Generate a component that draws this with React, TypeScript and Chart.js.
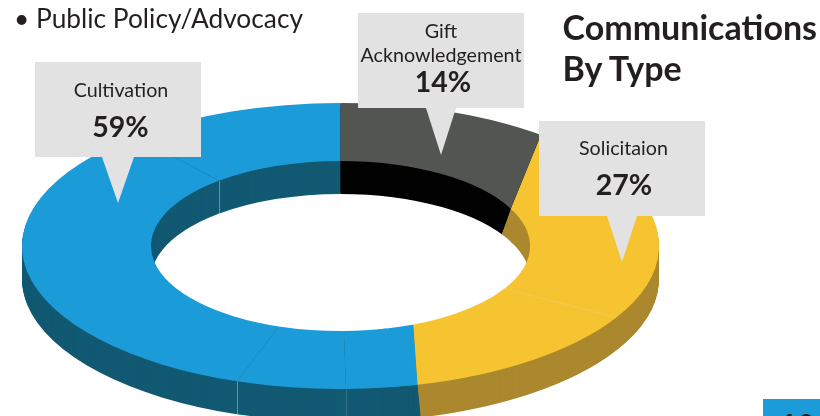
import React, { useEffect, useRef } from "react";
import { Chart, registerables } from "chart.js";

Chart.register(...registerables);

// Ring pieces, in degrees clockwise from twelve o'clock
const segmentNames = ["Gift", "Solicitation A", "Solicitation B", "Cultivation A", "Cultivation B", "Cultivation C", "Cultivation D"];
const segmentDegrees = [64, 56, 46, 13, 20, 121, 40];
const topColors = ["#535552", "#f5c430", "#f5c430", "#1b9cd9", "#1b9cd9", "#1b9cd9", "#1b9cd9"];
const wallColors = ["#010200", "#ab882e", "#ab882e", "#125972", "#125972", "#125972", "#125972"];
// The coloured boundaries are not radial: outer end and inner end have different angles
const skewed: Record<number, { outer: number; inner: number; slant: number; next: number }> = {
  0: { outer: 39, inner: 64, slant: -0.37, next: 1 },
  2: { outer: 166, inner: 157.4, slant: 0.1, next: 3 },
};
// Faint light seams on the walls (index of the arc whose start angle is the seam; which wall)
const wallSeams = [
  { arc: 5, wall: "outer", alpha: 0.35 },
  { arc: 6, wall: "inner", alpha: 0.35 },
  { arc: 4, wall: "outer", alpha: 0.15 },
];
const topSeams = [{ arc: 2, color: "rgba(255,232,150,0.5)" }];

const calloutLabels = [["Cultivation"], ["Gift", "Acknowledgement"], ["Solicitaion"]];
const calloutValues = ["59%", "14%", "27%"];
const titleLines = ["Communications", "By Type"];
const bulletText = "Public Policy/Advocacy";
const pageNumber = "10";

const callouts = [
  { x: 35, y: 62, tipBase: [102, 134], tip: [118, 203], lineY: [90], valueY: 126, labelDx: 3, valueDx: 2.5 },
  { x: 358, y: 13, tipBase: [426, 456], tip: [441, 155], lineY: [31, 55], valueY: 81, labelDx: 0, valueDx: 2 },
  { x: 539, y: 121, tipBase: [607, 637], tip: [622, 262], lineY: [148], valueY: 184, labelDx: 1.5, valueDx: 2 },
];

const CX_Y = 246;
const SQUASH = 0.449;
const DEPTH = 33;

function pt(arc: any, deg: number, r: number) {
  const a = ((deg - 90) * Math.PI) / 180;
  return [arc.x + Math.cos(a) * r, arc.y + Math.sin(a) * r];
}

function clipSide(ctx: CanvasRenderingContext2D, arc: any, s: any, depth: number, keepStart: boolean) {
  const dx = s.slant * depth;
  const po = pt(arc, s.outer, arc.outerRadius);
  const pi = pt(arc, s.inner, arc.innerRadius);
  po[0] += dx;
  pi[0] += dx;
  let ux = po[0] - pi[0];
  let uy = po[1] - pi[1];
  const len = Math.hypot(ux, uy);
  ux /= len;
  uy /= len;
  let nx = -uy;
  let ny = ux;
  const mid = pt(arc, (arc.startAngle * 180) / Math.PI + 90, (arc.innerRadius + arc.outerRadius) / 2);
  const side = (mid[0] - pi[0]) * nx + (mid[1] - pi[1]) * ny;
  if ((side < 0) === keepStart) {
    nx = -nx;
    ny = -ny;
  }
  const F = 4000;
  ctx.beginPath();
  ctx.moveTo(pi[0] - ux * F, pi[1] - uy * F);
  ctx.lineTo(po[0] + ux * F, po[1] + uy * F);
  ctx.lineTo(po[0] + ux * F + nx * F, po[1] + uy * F + ny * F);
  ctx.lineTo(pi[0] - ux * F + nx * F, pi[1] - uy * F + ny * F);
  ctx.closePath();
  ctx.clip();
}

function paint(ctx: CanvasRenderingContext2D, arc: any, color: string, overlap = 0) {
  const copy = Object.assign(Object.create(Object.getPrototypeOf(arc)), arc, {
    options: { ...arc.options, backgroundColor: color, borderWidth: 0 },
    endAngle: arc.endAngle + overlap,
    circumference: arc.circumference + overlap,
  });
  copy.draw(ctx);
}

const ringPlugin = {
  id: "ring3d",
  beforeDatasetsDraw(chart: any) {
    const ctx: CanvasRenderingContext2D = chart.ctx;
    const arcs = chart.getDatasetMeta(0).data;
    const cy = arcs[0].y;
    const toY = (y: number) => CX_Y + (y - cy) * SQUASH;
    const layer = (depth: number, colors: string[]) => {
      ctx.save();
      ctx.translate(0, CX_Y + depth);
      ctx.scale(1, SQUASH);
      ctx.translate(0, -cy);
      for (let i = arcs.length - 1; i >= 0; i--) {
        const s = skewed[i];
        if (s) {
          ctx.save();
          clipSide(ctx, arcs[i], s, depth, false);
          paint(ctx, arcs[i], colors[s.next], 0.03);
          ctx.restore();
          ctx.save();
          clipSide(ctx, arcs[i], s, depth, true);
          paint(ctx, arcs[i], colors[i]);
          ctx.restore();
        } else {
          paint(ctx, arcs[i], colors[i]);
        }
      }
      ctx.restore();
    };
    for (let d = DEPTH; d >= 1; d--) layer(d, wallColors);
    ctx.save();
    ctx.lineWidth = 1;
    wallSeams.forEach((w) => {
      const a = arcs[w.arc];
      const deg = (a.startAngle * 180) / Math.PI + 90;
      const p = pt(a, deg, w.wall === "outer" ? a.outerRadius : a.innerRadius);
      ctx.strokeStyle = `rgba(255,255,255,${w.alpha})`;
      ctx.beginPath();
      ctx.moveTo(Math.round(p[0]) + 0.5, toY(p[1]));
      ctx.lineTo(Math.round(p[0]) + 0.5, toY(p[1]) + DEPTH);
      ctx.stroke();
    });
    ctx.restore();
    layer(0, topColors);
    ctx.save();
    ctx.lineWidth = 0.8;
    topSeams.forEach((t) => {
      const a = arcs[t.arc];
      const deg = (a.startAngle * 180) / Math.PI + 90;
      const p = pt(a, deg, a.innerRadius);
      const q = pt(a, deg, a.outerRadius);
      ctx.strokeStyle = t.color;
      ctx.beginPath();
      ctx.moveTo(p[0], toY(p[1]));
      ctx.lineTo(q[0], toY(q[1]));
      ctx.stroke();
    });
    ctx.restore();
    return false;
  },
};

export default function App() {
  const ref = useRef<HTMLCanvasElement>(null);
  useEffect(() => {
    document.body.style.margin = "0";
    const chart = new Chart(ref.current!, {
      type: "doughnut",
      data: {
        labels: segmentNames,
        datasets: [{ data: segmentDegrees, backgroundColor: topColors, borderWidth: 0 }],
      },
      options: {
        responsive: false,
        animation: false,
        cutout: "59.5%",
        layout: { padding: { left: 22, right: 161, top: 0, bottom: 0 } },
        plugins: { legend: { display: false }, tooltip: { enabled: false } },
      },
      plugins: [ringPlugin],
    } as any);
    return () => chart.destroy();
  }, []);

  const font = "Lato, 'Noto Sans', sans-serif";
  const ink = "#231f20";
  return (
    <div style={{ position: "relative", width: 820, height: 416, overflow: "hidden", background: "#fff", fontFamily: font, color: ink }}>
      <canvas ref={ref} width={820} height={637} style={{ position: "absolute", left: 0, top: 0, width: 820, height: 637 }} />
      <div style={{ position: "absolute", left: 14, top: 1, fontSize: 26.3, lineHeight: "34px", whiteSpace: "nowrap" }}>
        <span style={{ display: "inline-block", width: 22 }}>•</span>
        {bulletText}
      </div>
      {titleLines.map((t, i) => (
        <div key={t} style={{ position: "absolute", left: 562.5, top: 6 + i * 40.5, fontSize: 34, lineHeight: "41px", fontWeight: 700, whiteSpace: "nowrap" }}>
          {t}
        </div>
      ))}
      {callouts.map((c, i) => (
        <React.Fragment key={i}>
          <div style={{ position: "absolute", left: c.x, top: c.y, width: 166, height: 95, background: "#e2e2e2" }} />
          <div
            style={{
              position: "absolute",
              left: c.tipBase[0],
              top: c.y + 95,
              width: c.tipBase[1] - c.tipBase[0],
              height: c.tip[1] - c.y - 95,
              background: "#e2e2e2",
              clipPath: `polygon(0 0, 100% 0, ${c.tip[0] - c.tipBase[0]}px 100%)`,
            }}
          />
          {calloutLabels[i].map((l, j) => (
            <div key={l} style={{ position: "absolute", left: c.x - 10 + c.labelDx, width: 186, top: c.lineY[j] - 12, height: 24, lineHeight: "24px", textAlign: "center", fontSize: 19.7, whiteSpace: "nowrap" }}>
              {l}
            </div>
          ))}
          <div style={{ position: "absolute", left: c.x + c.valueDx, width: 166, top: c.valueY - 18, height: 36, lineHeight: "36px", textAlign: "center", fontSize: 28.5, fontWeight: 700 }}>
            {calloutValues[i]}
          </div>
        </React.Fragment>
      ))}
      <div style={{ position: "absolute", left: 763, top: 399, width: 57, height: 17, background: "#1b9cd9", overflow: "hidden" }}>
        <div style={{ position: "absolute", left: 6, width: 57, top: 10, textAlign: "center", fontSize: 30, lineHeight: "30px", fontWeight: 700 }}>{pageNumber}</div>
      </div>
    </div>
  );
}
